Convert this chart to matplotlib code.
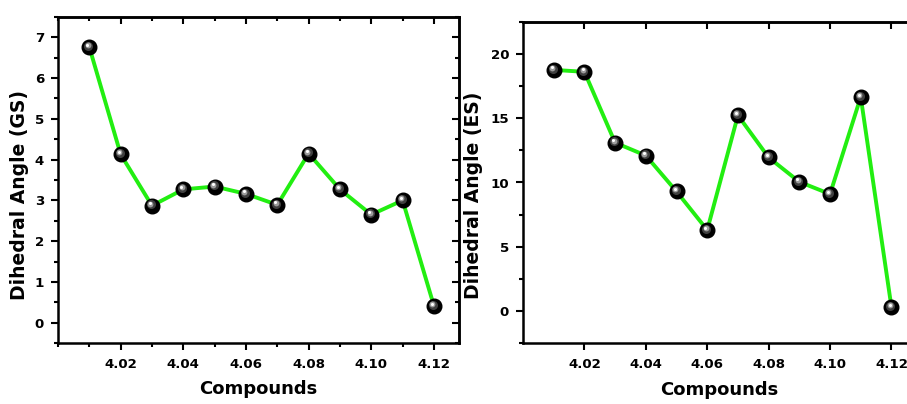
import matplotlib
matplotlib.use("Agg")
import matplotlib.pyplot as plt
from matplotlib.ticker import MultipleLocator, FixedLocator, FormatStrFormatter
import matplotlib.transforms as mtransforms

plt.rcParams['font.family'] = ['DejaVu Sans']
plt.rcParams['font.weight'] = 'bold'

compounds = [4.01, 4.02, 4.03, 4.04, 4.05, 4.06, 4.07, 4.08, 4.09, 4.10, 4.11, 4.12]
angle_gs = [6.76, 4.13, 2.87, 3.27, 3.34, 3.16, 2.89, 4.15, 3.27, 2.65, 3.00, 0.41]
angle_es = [18.77, 18.62, 13.1, 12.1, 9.3, 6.3, 15.23, 11.95, 10.05, 9.1, 16.66, 0.3]
x_ticks = [4.02, 4.04, 4.06, 4.08, 4.10, 4.12]

fig = plt.figure(figsize=(9.07, 4.04), dpi=100)
ax1 = fig.add_axes([58/907, 61/404, 401/907, 326/404])
ax2 = fig.add_axes([523/907, 61/404, 393/907, 321/404])

def sphere_plot(ax, x, y):
    ax.plot(x, y, color='#22ee11', lw=2.8, zorder=2, solid_capstyle='butt')
    ax.plot(x, y, ls='none', marker='o', ms=10.5, mfc='black', mec='black', zorder=3)
    t1 = mtransforms.offset_copy(ax.transData, fig=fig, x=-1.0, y=1.2, units='dots')
    ax.plot(x, y, ls='none', marker='o', ms=6.5, mfc='#404040', mec='none', zorder=4, transform=t1)
    t2 = mtransforms.offset_copy(ax.transData, fig=fig, x=-1.6, y=2.0, units='dots')
    ax.plot(x, y, ls='none', marker='o', ms=4.2, mfc='#9c9c9c', mec='none', zorder=5, transform=t2)
    t3 = mtransforms.offset_copy(ax.transData, fig=fig, x=-1.9, y=2.4, units='dots')
    ax.plot(x, y, ls='none', marker='o', ms=2.2, mfc='white', mec='none', zorder=6, transform=t3)

def style(ax, ylim, ymaj, ymin, xminor, ylabel, lab_xy, xlab_y, right=True):
    ax.set_xlim(4.0, 4.128)
    ax.set_ylim(*ylim)
    ax.xaxis.set_major_locator(FixedLocator(x_ticks))
    ax.xaxis.set_major_formatter(FormatStrFormatter('%.2f'))
    if xminor:
        ax.xaxis.set_minor_locator(MultipleLocator(0.01))
    ax.yaxis.set_major_locator(MultipleLocator(ymaj))
    ax.yaxis.set_minor_locator(MultipleLocator(ymin))
    ax.tick_params(which='major', direction='out', length=5, width=1.5, labelsize=9.6, pad=5)
    ax.tick_params(which='minor', direction='out', length=3, width=1.5)
    ax.tick_params(axis='x', which='major', pad=6)
    for s in ax.spines.values():
        s.set_linewidth(1.8)
    ax.spines['right'].set_visible(right)
    for lab in ax.get_xticklabels() + ax.get_yticklabels():
        lab.set_fontweight('bold')
    ax.set_xlabel('Compounds', fontsize=13, fontweight='bold')
    ax.xaxis.set_label_coords(0.5, xlab_y)
    ax.set_ylabel(ylabel, fontsize=13.5, fontweight='bold')
    ax.yaxis.set_label_coords(*lab_xy)
    top = ax.secondary_xaxis('top')
    top.xaxis.set_major_locator(FixedLocator(x_ticks))
    if xminor:
        top.xaxis.set_minor_locator(MultipleLocator(0.01))
    top.tick_params(which='major', direction='in', length=5, width=1.5, labeltop=False)
    top.tick_params(which='minor', direction='in', length=3, width=1.5)
    top.spines['top'].set_linewidth(1.8)
    if right:
        rt = ax.secondary_yaxis('right')
        rt.yaxis.set_major_locator(MultipleLocator(ymaj))
        rt.yaxis.set_minor_locator(MultipleLocator(ymin))
        rt.tick_params(which='major', direction='in', length=5, width=1.5, labelright=False)
        rt.tick_params(which='minor', direction='in', length=3, width=1.5)
        rt.spines['right'].set_linewidth(1.8)

sphere_plot(ax1, compounds, angle_gs)
sphere_plot(ax2, compounds, angle_es)
style(ax1, (-0.5, 7.5), 1, 0.5, True, 'Dihedral Angle (GS)', (-0.072, 0.454), -0.115, right=True)
style(ax2, (-2.5, 22.5), 5, 2.5, False, 'Dihedral Angle (ES)', (-0.102, 0.461), -0.117, right=False)

fig.savefig('out.png', dpi=100)
